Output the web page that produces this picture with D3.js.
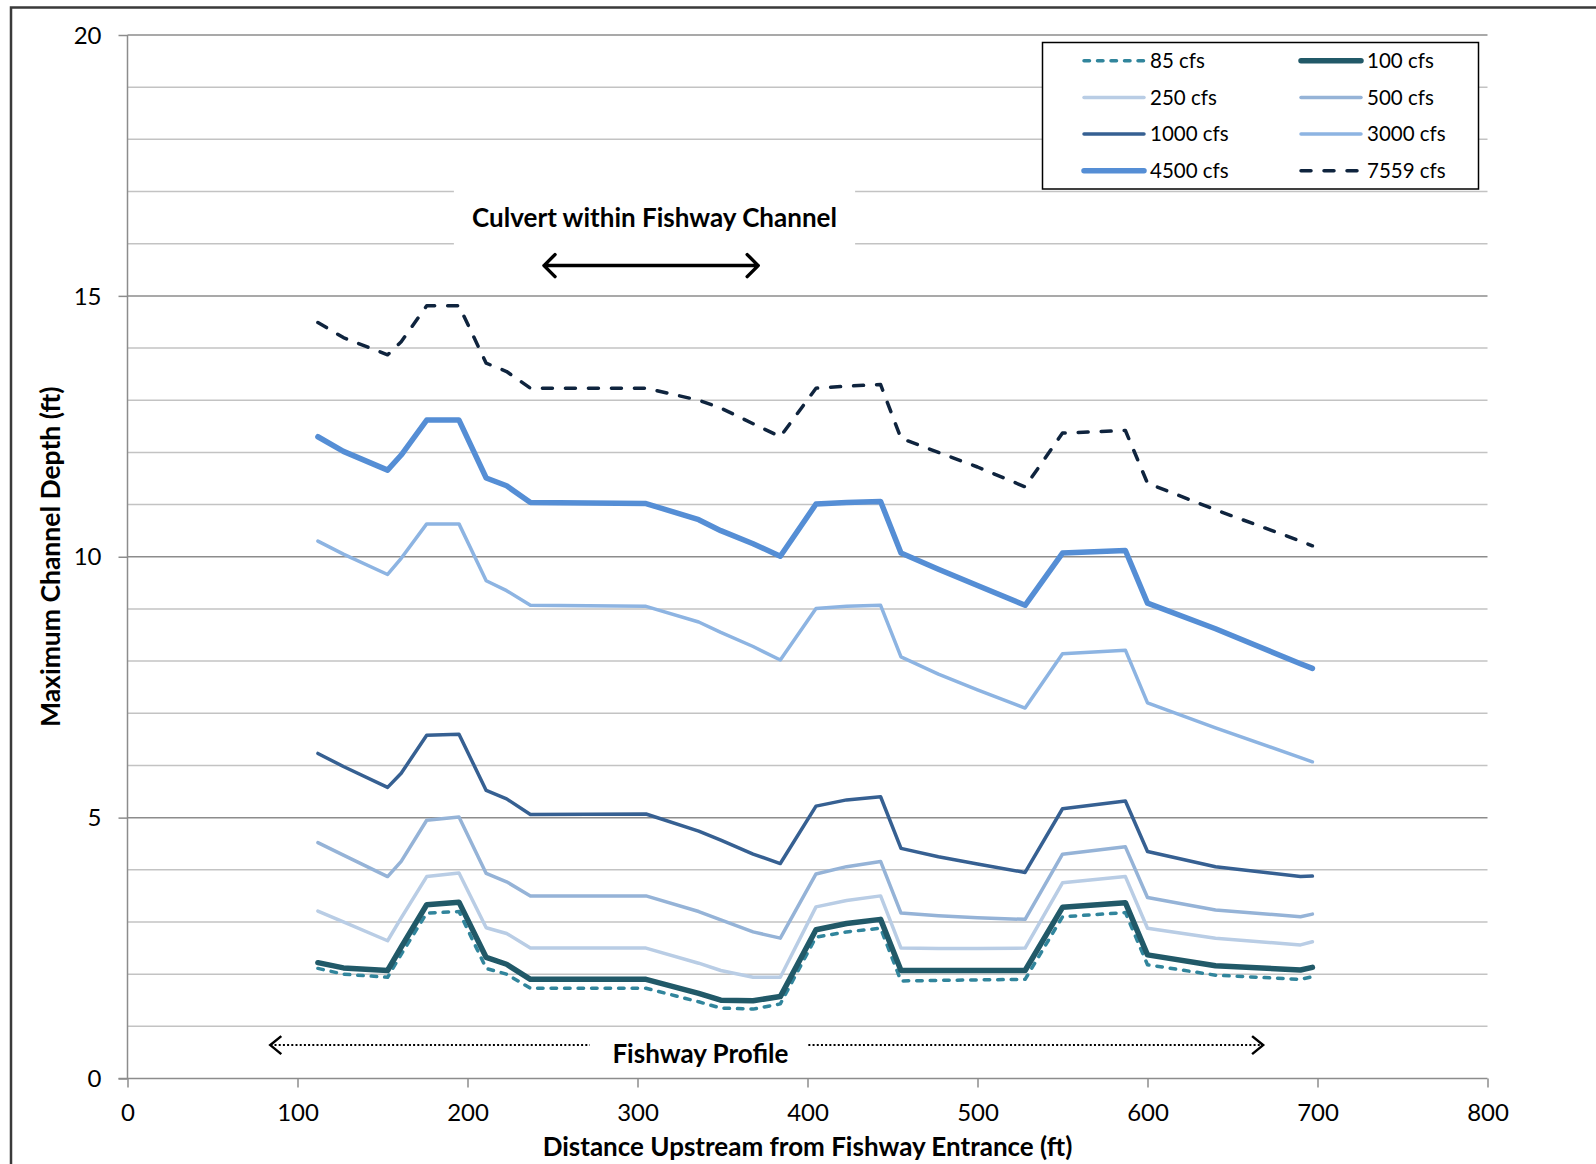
<!DOCTYPE html>
<html>
<head>
<meta charset="utf-8">
<script src="https://cdn.jsdelivr.net/npm/d3@7"></script>
<style>
  body { margin: 0; background: #fff; }
  svg { display: block; font-family: Carlito, Calibri, Lato, sans-serif; }
</style>
</head>
<body>
<svg id="drawing_region"></svg>
<script>
// stations along the fishway (ft)
const stations = [112, 127, 153, 161, 176, 195, 211, 223, 237, 305, 336, 349, 368, 384,
                  405, 423, 443, 455, 477, 500, 528, 550, 587, 600, 640, 690, 697];

const depth85   = [2.11, 2.00, 1.94, 2.38, 3.17, 3.20, 2.11, 2.00, 1.73, 1.73, 1.47, 1.35, 1.33, 1.43, 2.71, 2.81, 2.88, 1.87, 1.88, 1.89, 1.90, 3.10, 3.18, 2.18, 1.98, 1.90, 1.95];
const depth100  = [2.22, 2.12, 2.07, 2.52, 3.33, 3.38, 2.32, 2.19, 1.90, 1.90, 1.63, 1.50, 1.49, 1.57, 2.85, 2.97, 3.05, 2.07, 2.07, 2.07, 2.07, 3.28, 3.37, 2.37, 2.16, 2.08, 2.13];
const depth250  = [3.21, 3.00, 2.64, 3.08, 3.87, 3.94, 2.89, 2.78, 2.50, 2.50, 2.21, 2.07, 1.94, 1.94, 3.29, 3.41, 3.50, 2.50, 2.49, 2.49, 2.50, 3.75, 3.87, 2.88, 2.69, 2.56, 2.62];
const depth500  = [4.52, 4.28, 3.87, 4.16, 4.95, 5.01, 3.93, 3.77, 3.50, 3.50, 3.20, 3.04, 2.81, 2.69, 3.92, 4.06, 4.16, 3.17, 3.12, 3.08, 3.05, 4.30, 4.44, 3.47, 3.23, 3.10, 3.15];
const depth1000 = [6.23, 5.98, 5.58, 5.85, 6.58, 6.60, 5.52, 5.36, 5.06, 5.07, 4.74, 4.57, 4.30, 4.12, 5.22, 5.34, 5.40, 4.41, 4.25, 4.11, 3.95, 5.17, 5.32, 4.35, 4.06, 3.87, 3.88];
const depth3000 = [10.30, 10.05, 9.66, 9.97, 10.63, 10.63, 9.54, 9.35, 9.07, 9.05, 8.75, 8.55, 8.28, 8.02, 9.01, 9.05, 9.07, 8.08, 7.75, 7.45, 7.10, 8.14, 8.21, 7.20, 6.72, 6.15, 6.07];
const depth4500 = [12.30, 12.02, 11.66, 11.95, 12.62, 12.62, 11.51, 11.36, 11.04, 11.02, 10.71, 10.50, 10.25, 10.01, 11.01, 11.04, 11.06, 10.07, 9.76, 9.45, 9.07, 10.07, 10.12, 9.11, 8.62, 7.95, 7.86];
const depth7559 = [14.49, 14.20, 13.87, 14.12, 14.81, 14.81, 13.71, 13.55, 13.23, 13.23, 13.00, 12.85, 12.55, 12.30, 13.23, 13.27, 13.30, 12.27, 12.00, 11.72, 11.34, 12.37, 12.42, 11.41, 10.90, 10.30, 10.21];

const seriesNames = ['85 cfs', '100 cfs', '250 cfs', '500 cfs', '1000 cfs', '3000 cfs', '4500 cfs', '7559 cfs'];
const seriesValues = [depth85, depth100, depth250, depth500, depth1000, depth3000, depth4500, depth7559];

const xTicks = [0, 100, 200, 300, 400, 500, 600, 700, 800];
const yTicks = [0, 5, 10, 15, 20];

// line styles per series (same order as names)
const styles = [
    { color: '#31859c', width: 3.5, dash: '5.5,8' },
    { color: '#215968', width: 5.5, dash: null },
    { color: '#b9cde5', width: 3.5, dash: null },
    { color: '#95b3d7', width: 3.5, dash: null },
    { color: '#366092', width: 3.5, dash: null },
    { color: '#8db4e2', width: 3.5, dash: null },
    { color: '#558ed5', width: 5.5, dash: null },
    { color: '#0f243e', width: 3.5, dash: '10,13' }
];

const W = 1596, H = 1164;
const margin = { top: 35, right: 108.5, bottom: 85.5, left: 127.5 };
const innerW = W - margin.left - margin.right;
const innerH = H - margin.top - margin.bottom;

const svg = d3.select('#drawing_region').attr('width', W).attr('height', H);

// outer frame
svg.append('rect')
    .attr('x', 11).attr('y', 7.5)
    .attr('width', W + 20).attr('height', H + 20)
    .attr('fill', 'none')
    .attr('stroke', '#3a3a3a')
    .attr('stroke-width', 2.5);

const chart = svg.append('g').attr('transform', `translate(${margin.left}, ${margin.top})`);

const xscale = d3.scaleLinear().domain([0, 800]).range([0, innerW]);
const yscale = d3.scaleLinear().domain([0, 20]).range([innerH, 0]);

// gridlines every 1 ft, darker at the major units
chart.append('g').selectAll('line')
    .data(d3.range(1, 21))
    .join('line')
    .attr('x1', 0).attr('x2', innerW)
    .attr('y1', d => yscale(d)).attr('y2', d => yscale(d))
    .attr('stroke', d => d % 5 === 0 ? '#8c8c8c' : '#c3c3c3')
    .attr('stroke-width', 1.5);

// axes
const xaxis = d3.axisBottom(xscale).tickValues(xTicks).tickSize(9).tickPadding(16).tickFormat(d3.format('d'));
const yaxis = d3.axisLeft(yscale).tickValues(yTicks).tickSize(9).tickPadding(17).tickFormat(d3.format('d'));

const xg = chart.append('g').attr('transform', `translate(0, ${innerH})`).call(xaxis);
const yg = chart.append('g').call(yaxis);
[xg, yg].forEach(g => {
    g.select('.domain').attr('stroke', '#8c8c8c').attr('stroke-width', 1.5);
    g.selectAll('.tick line').attr('stroke', '#8c8c8c').attr('stroke-width', 1.5);
    g.selectAll('.tick text').attr('fill', '#000').style('font-size', '24px').style('font-family', 'Lato, sans-serif');
});
yg.select('.domain').attr('d', `M0,${innerH}V0`);
xg.select('.domain').attr('d', `M-9,0H${innerW}`);
yg.selectAll('.tick text').attr('dy', '0.34em');

// annotations
const culvertY = 15.58;
chart.append('rect')
    .attr('x', xscale(192)).attr('y', yscale(17.12))
    .attr('width', xscale(428) - xscale(192)).attr('height', yscale(15.9) - yscale(17.12))
    .attr('fill', '#fff');
chart.append('text')
    .attr('x', xscale(310)).attr('y', yscale(16.5))
    .attr('text-anchor', 'middle').attr('dy', '0.35em')
    .style('font-family', 'Lato, sans-serif').style('font-weight', 'bold').style('font-size', '26px')
    .text('Culvert within Fishway Channel');

const arrowPath = (x1, x2, y, head) => {
    const a = xscale(x1), b = xscale(x2), c = yscale(y);
    return `M${a},${c}H${b}M${a + head},${c - head}L${a},${c}L${a + head},${c + head}` +
           `M${b - head},${c - head}L${b},${c}L${b - head},${c + head}`;
};
chart.append('path')
    .attr('d', arrowPath(245, 371, culvertY, 11))
    .attr('fill', 'none').attr('stroke', '#000').attr('stroke-width', 3.5)
    .attr('stroke-linecap', 'round').attr('stroke-linejoin', 'round');

// fishway profile arrows
const profY = 0.64;
chart.append('path')
    .attr('d', `M${xscale(84)},${yscale(profY)}H${xscale(272)}`)
    .attr('stroke', '#000').attr('stroke-width', 2).attr('stroke-dasharray', '2,2.2');
chart.append('path')
    .attr('d', `M${xscale(400.5)},${yscale(profY)}H${xscale(668)}`)
    .attr('stroke', '#000').attr('stroke-width', 2).attr('stroke-dasharray', '2,2.2');
chart.append('path')
    .attr('d', `M${xscale(84) + 11},${yscale(profY) - 9}L${xscale(84)},${yscale(profY)}L${xscale(84) + 11},${yscale(profY) + 9}`)
    .attr('fill', 'none').attr('stroke', '#000').attr('stroke-width', 2.5);
chart.append('path')
    .attr('d', `M${xscale(668) - 11},${yscale(profY) - 9}L${xscale(668)},${yscale(profY)}L${xscale(668) - 11},${yscale(profY) + 9}`)
    .attr('fill', 'none').attr('stroke', '#000').attr('stroke-width', 2.5);
chart.append('text')
    .attr('x', xscale(337)).attr('y', yscale(0.48))
    .attr('text-anchor', 'middle').attr('dy', '0.35em')
    .style('font-family', 'Lato, sans-serif').style('font-weight', 'bold').style('font-size', '26px')
    .text('Fishway Profile');

// series lines
const line = d3.line()
    .x(d => xscale(d[0]))
    .y(d => yscale(d[1]));

seriesValues.forEach((vals, i) => {
    const pts = stations.map((s, k) => [s, vals[k]]);
    chart.append('path')
        .datum(pts)
        .attr('d', line)
        .attr('fill', 'none')
        .attr('stroke', styles[i].color)
        .attr('stroke-width', styles[i].width)
        .attr('stroke-linejoin', 'round')
        .attr('stroke-linecap', 'round')
        .attr('stroke-dasharray', styles[i].dash);
});

// legend
const legend = svg.append('g');
legend.append('rect')
    .attr('x', 1042.5).attr('y', 42.5)
    .attr('width', 436).attr('height', 146.5)
    .attr('fill', '#fff').attr('stroke', '#000').attr('stroke-width', 1.5);

const legendItems = legend.selectAll('g.item')
    .data(seriesNames)
    .join('g')
    .attr('class', 'item')
    .attr('transform', (d, i) => `translate(${i % 2 === 0 ? 1084 : 1301}, ${60.7 + Math.floor(i / 2) * 36.7})`);

legendItems.append('line')
    .attr('x1', 0).attr('x2', 60)
    .attr('stroke', (d, i) => styles[i].color)
    .attr('stroke-width', (d, i) => styles[i].width)
    .attr('stroke-linecap', 'round')
    .attr('stroke-dasharray', (d, i) => styles[i].dash);

legendItems.append('text')
    .attr('x', 66).attr('dy', '0.35em')
    .style('font-family', 'Lato, sans-serif').style('font-size', '20.5px')
    .text(d => d);

// axis titles
svg.append('text')
    .attr('x', margin.left + innerW / 2).attr('y', 1147)
    .attr('text-anchor', 'middle').attr('dy', '0.35em')
    .style('font-family', 'Lato, sans-serif').style('font-weight', 'bold').style('font-size', '26px')
    .text('Distance Upstream from Fishway Entrance (ft)');

svg.append('text')
    .attr('transform', `translate(51, ${margin.top + innerH / 2}) rotate(-90)`)
    .attr('text-anchor', 'middle').attr('dy', '0.35em')
    .style('font-family', 'Lato, sans-serif').style('font-weight', 'bold').style('font-size', '26.5px')
    .text('Maximum Channel Depth (ft)');
</script>
</body>
</html>
